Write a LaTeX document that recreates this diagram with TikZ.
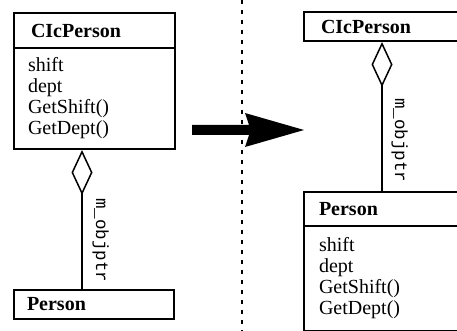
\documentclass[tikz,border=0pt]{standalone}
\usepackage{fontspec}
\setmainfont{Liberation Serif}
\newfontfamily\monofnt{Liberation Mono}
\usetikzlibrary{arrows.meta,calc}
\tikzset{
  classbox/.style={draw, line width=2pt, anchor=north west, align=left, inner ysep=0pt},
  hdr/.style={classbox, font=\fontsize{20}{21}\selectfont\bfseries},
  bdy/.style={classbox, font=\fontsize{20}{21}\selectfont},
  assoc/.style={line width=1.5pt, {Diamond[open,length=45pt,width=21pt]}-},
  rolelbl/.style={font=\monofnt\fontsize{17.5}{18}\selectfont, rotate=-90, anchor=base, inner sep=0pt},
  divider/.style={dash pattern=on 4pt off 6pt, line width=2pt}
}
\begin{document}
\begin{tikzpicture}[x=1pt,y=-1pt]
\clip (0,0) rectangle (457,331);
% left side
\node[hdr, inner xsep=17pt, text width=127pt, minimum height=35pt] (lhead) at (13,12) {CIcPerson};
\node[bdy, inner xsep=14pt, text width=133pt, minimum height=101pt] (lbody) at (13,47) {shift\\dept\\GetShift()\\GetDept()};
\node[hdr, inner xsep=13pt, text width=134pt, minimum height=29pt] (lperson) at (13,289) {Person};
\coordinate (la) at ([xshift=69pt]lbody.south west);
\coordinate (lb) at (la |- lperson.north);
\draw[assoc] (la) -- (lb);
\node[rolelbl] (llbl) at ($(la)!0.65!(lb)+(14,0)$) {m\_objptr};
% separator
\coordinate (st) at (242,0);
\coordinate (sb) at (242,331);
\draw[divider] (st) -- (sb);
% transformation arrow
\fill (192,125) -- (249,125) -- (245,113) -- (304,130) -- (245,147) -- (249,135) -- (192,135) -- cycle;
% right side
\node[hdr, inner xsep=17pt, text width=136pt, minimum height=29pt] (rhead) at (303,11) {CIcPerson};
\node[hdr, inner xsep=15pt, text width=140pt, minimum height=34pt] (rperson) at (303,191) {Person};
\node[bdy, inner xsep=15pt, text width=140pt, minimum height=105pt] (rbody) at (303,225) {shift\\dept\\GetShift()\\GetDept()};
\coordinate (ra) at ([xshift=79pt]rhead.south west);
\coordinate (rb) at (ra |- rperson.north);
\draw[assoc] (ra) -- (rb);
\node[rolelbl] (rlbl) at ($(ra)!0.66!(rb)+(13,0)$) {m\_objptr};
\end{tikzpicture}
\end{document}
